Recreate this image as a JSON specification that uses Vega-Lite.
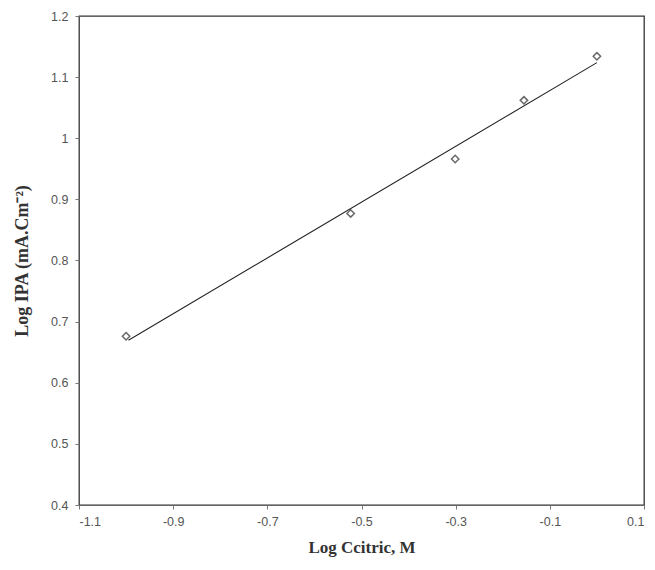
{
  "$schema": "https://vega.github.io/schema/vega-lite/v6.json",
  "autosize": {"type": "none"},
  "padding": {"left": 79, "top": 16, "right": 11, "bottom": 65},
  "width": 565,
  "height": 489,
  "background": "white",
  "config": {
    "view": {"stroke": "#333333", "strokeWidth": 1.3},
    "axis": {
      "grid": false,
      "domain": false,
      "ticks": true,
      "tickSize": 4,
      "tickColor": "#777777",
      "labelFont": "Liberation Sans",
      "labelFontSize": 12.5,
      "labelColor": "#555555",
      "titleFont": "Liberation Serif",
      "titleFontSize": 17,
      "titleFontWeight": "bold",
      "titleColor": "#333333"
    }
  },
  "data": {
    "values": [
      {"x": -1.0, "y": 0.676},
      {"x": -0.523, "y": 0.877},
      {"x": -0.301, "y": 0.966},
      {"x": -0.155, "y": 1.062},
      {"x": 0.0, "y": 1.134}
    ]
  },
  "layer": [
    {
      "transform": [{"regression": "y", "on": "x", "extent": [-0.995, 0.0]}],
      "mark": {"type": "line", "color": "#222222", "strokeWidth": 1.1},
      "encoding": {
        "x": {"field": "x", "type": "quantitative"},
        "y": {"field": "y", "type": "quantitative"}
      }
    },
    {
      "mark": {"type": "point", "shape": "diamond", "filled": false, "size": 55, "stroke": "#2a2a2a", "strokeWidth": 1.5},
      "encoding": {
        "x": {
          "field": "x", "type": "quantitative",
          "scale": {"domain": [-1.1, 0.1], "nice": false, "zero": false},
          "axis": {
            "values": [-1.1, -0.9, -0.7, -0.5, -0.3, -0.1, 0.1],
            "format": ".1f",
            "labelExpr": "replace(datum.label, '−', '-')",
            "labelPadding": 6,
            "title": "Log Ccitric, M",
            "titlePadding": 12
          }
        },
        "y": {
          "field": "y", "type": "quantitative",
          "scale": {"domain": [0.4, 1.2], "nice": false, "zero": false},
          "axis": {
            "values": [0.4, 0.5, 0.6, 0.7, 0.8, 0.9, 1.0, 1.1, 1.2],
            "format": ".1~f",
            "labelPadding": 7,
            "title": "Log IPA (mA.Cm⁻²)",
            "titleFontSize": 18,
            "titlePadding": 19
          }
        }
      }
    }
  ]
}
